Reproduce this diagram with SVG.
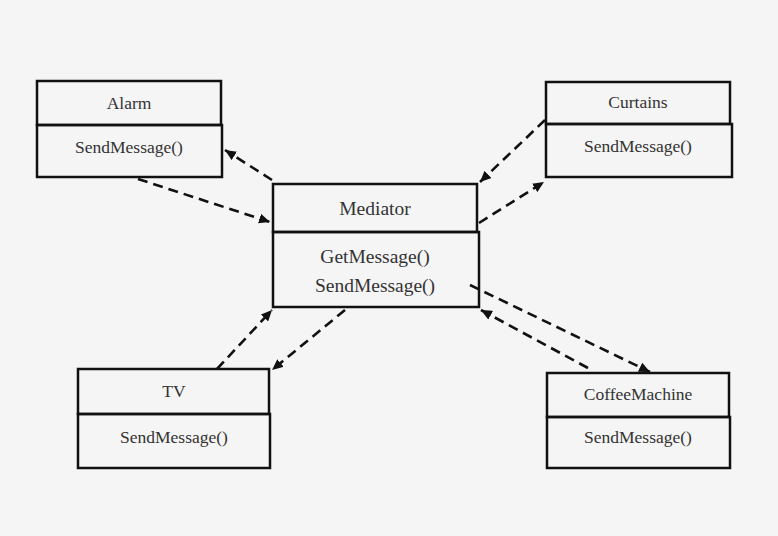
<svg xmlns="http://www.w3.org/2000/svg" width="778" height="536" viewBox="0 0 778 536">
<style>
.box{fill:none;stroke:#111;stroke-width:2.5}
.t{font-family:"Liberation Serif","Times New Roman",serif;font-size:17.5px;fill:#333;text-anchor:middle;dominant-baseline:central}
.tm{font-size:19.5px}
.c{fill:none;stroke:#111;stroke-width:2.6;stroke-dasharray:10 6;marker-end:url(#ah)}
</style>
<defs>
<marker id="ah" markerUnits="userSpaceOnUse" markerWidth="12" markerHeight="10" viewBox="0 0 12 10" refX="11" refY="5" orient="auto">
<path d="M0,0 L11,5 L0,10 Z" fill="#111"/>
</marker>
</defs>
<rect width="778" height="536" fill="#f5f5f5"/>
<g id="connectors">
<line class="c" x1="272" y1="180" x2="225" y2="150"/>
<line class="c" x1="138" y1="179" x2="270" y2="222"/>
<line class="c" x1="545" y1="120" x2="480" y2="182"/>
<line class="c" x1="479" y1="223" x2="544" y2="182"/>
<line class="c" x1="217" y1="369" x2="272" y2="310"/>
<line class="c" x1="345" y1="310" x2="272" y2="370"/>
<line class="c" x1="470" y1="285" x2="650" y2="372"/>
<line class="c" x1="588" y1="368" x2="481" y2="310"/>
</g>
<g id="alarm">
<rect class="box" x="37" y="81" width="184" height="44"/>
<rect class="box" x="37" y="125" width="185" height="52"/>
<text class="t" x="129" y="103">Alarm</text>
<text class="t" x="129" y="147">SendMessage()</text>
</g>
<g id="curtains">
<rect class="box" x="546" y="82" width="184" height="42"/>
<rect class="box" x="546" y="124" width="186" height="53"/>
<text class="t" x="638" y="102">Curtains</text>
<text class="t" x="638" y="146">SendMessage()</text>
</g>
<g id="mediator">
<rect class="box" x="273" y="184" width="204" height="48"/>
<rect class="box" x="273" y="232" width="206" height="75"/>
<text class="t tm" x="375" y="208">Mediator</text>
<text class="t tm" x="375" y="256">GetMessage()</text>
<text class="t tm" x="375" y="285">SendMessage()</text>
</g>
<g id="tv">
<rect class="box" x="78" y="369" width="191" height="45"/>
<rect class="box" x="78" y="414" width="192" height="54"/>
<text class="t" x="174" y="391">TV</text>
<text class="t" x="174" y="437">SendMessage()</text>
</g>
<g id="coffeemachine">
<rect class="box" x="547" y="373" width="182" height="44"/>
<rect class="box" x="547" y="417" width="183" height="51"/>
<text class="t" x="638" y="394">CoffeeMachine</text>
<text class="t" x="638" y="437">SendMessage()</text>
</g>
</svg>
